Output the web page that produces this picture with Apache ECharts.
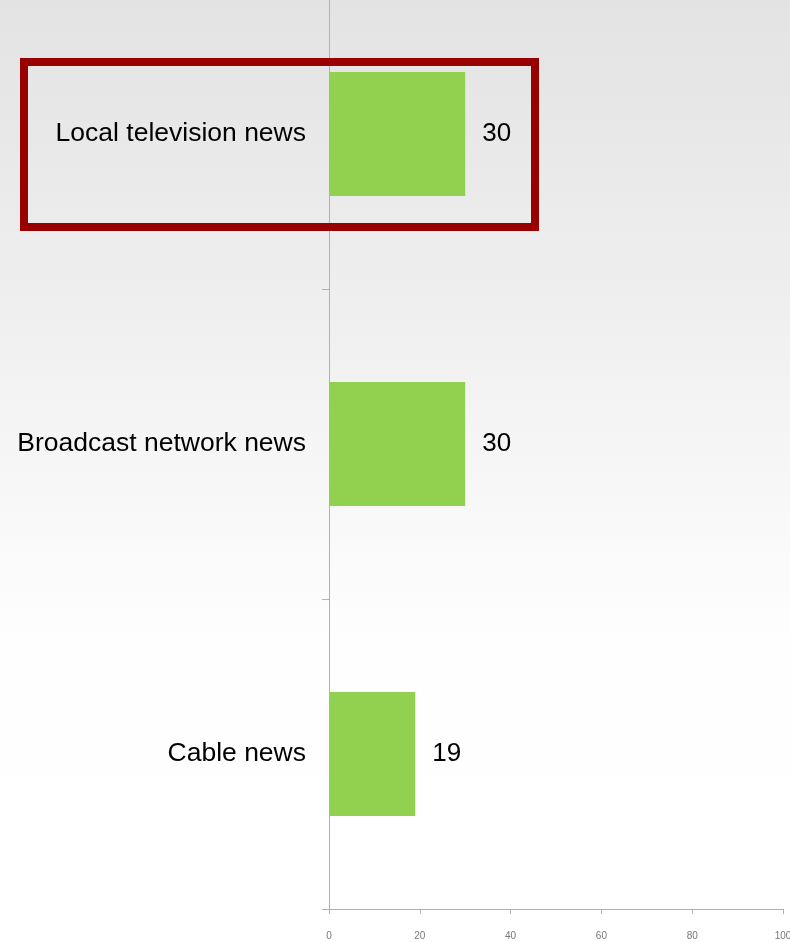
<!DOCTYPE html>
<html>
<head>
<meta charset="utf-8">
<script src="https://cdn.jsdelivr.net/npm/echarts@6/dist/echarts.min.js"></script>
<style>
  html, body { margin: 0; padding: 0; }
  #main { width: 790px; height: 942px; }
</style>
</head>
<body>
<div id="main"></div>
<script>
// news sources and share values
const categories = ['Local television news', 'Broadcast network news', 'Cable news'];
const values = [30, 30, 19];
const xTicks = [0, 20, 40, 60, 80, 100];

const chart = echarts.init(document.getElementById('main'));

chart.setOption({
  backgroundColor: {
    type: 'linear', x: 0, y: 0, x2: 0, y2: 1,
    colorStops: [
      { offset: 0, color: '#e3e3e3' },
      { offset: 0.3, color: '#eeeeee' },
      { offset: 0.68, color: '#fefefe' },
      { offset: 1, color: '#ffffff' }
    ]
  },
  animation: false,
  // top of the plot sits above the window, like the cropped original
  grid: { left: 329, right: 7, top: -21, bottom: 33, outerBoundsMode: 'none', containLabel: false },
  xAxis: {
    type: 'value',
    min: xTicks[0],
    max: xTicks[xTicks.length - 1],
    interval: 20,
    splitLine: { show: false },
    axisLine: { show: true, lineStyle: { color: '#b0b0b0', width: 1 } },
    axisTick: { show: true, length: 5, lineStyle: { color: '#b0b0b0' } },
    axisLabel: { fontSize: 10, color: '#777', margin: 22, fontFamily: 'Liberation Sans, Arial, sans-serif' }
  },
  yAxis: {
    type: 'category',
    inverse: true,
    data: categories,
    axisLine: { show: true, lineStyle: { color: '#b0b0b0', width: 1 } },
    axisTick: { show: true, length: 7, inside: false, lineStyle: { color: '#b0b0b0' } },
    axisLabel: {
      fontSize: 26.5, color: '#000', margin: 23, padding: [5, 0, 0, 0],
      fontFamily: 'Liberation Sans, Arial, sans-serif'
    }
  },
  series: [{
    type: 'bar',
    data: values,
    barWidth: '40%',
    itemStyle: { color: '#92d050' },
    label: {
      show: true,
      position: 'right',
      distance: 17,
      padding: [5, 0, 0, 0],
      fontSize: 26,
      color: '#000',
      fontFamily: 'Liberation Sans, Arial, sans-serif'
    }
  }],
  graphic: [{
    type: 'rect',
    shape: { x: 24, y: 62, width: 511, height: 165 },
    style: { fill: 'none', stroke: '#990000', lineWidth: 8 },
    z: 100
  }]
});
</script>
</body>
</html>
